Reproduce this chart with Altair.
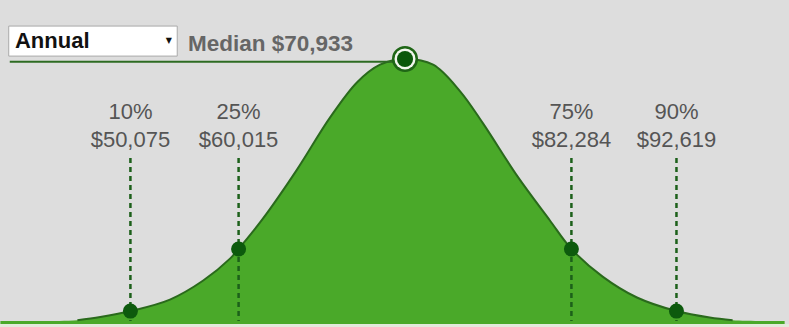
import altair as alt
import pandas as pd

# ---- data (x: position relative to the median, y: relative density) ----
curve_x = [-3.89, -3.51, -3.15, -2.93, -2.64, -2.26, -1.94, -1.68, -1.60, -1.37, -1.04,
           -0.72, -0.46, -0.24, 0.00, 0.27, 0.53, 0.75, 1.08, 1.39, 1.60, 1.90, 2.23,
           2.61, 2.93, 3.15, 3.65]
curve_y = [0.000, 0.000, 0.003, 0.015, 0.038, 0.082, 0.155, 0.240, 0.276, 0.390, 0.579,
           0.780, 0.915, 0.982, 1.004, 0.982, 0.880, 0.757, 0.555, 0.387, 0.276, 0.170,
           0.090, 0.038, 0.013, 0.003, 0.000]

pct_labels = ["10%", "25%", "75%", "90%"]
pct_values = ["$50,075", "$60,015", "$82,284", "$92,619"]
pct_x = [-2.64, -1.60, 1.60, 2.61]
pct_y = [0.038, 0.276, 0.276, 0.038]

median_label = "Median $70,933"
median_x = 0.0
median_y = 1.004
dropdown_text = "Annual"

# layout in data units
X_DOM = [-3.894, 3.692]
Y_DOM = [-0.023, 1.2299]
BAND = -0.0115

FONT = "Liberation Sans"

curve = pd.DataFrame({"x": curve_x, "y": curve_y})
pcts = pd.DataFrame({"x": pct_x, "y": pct_y, "lab": pct_labels, "val": pct_values,
                     "top": [0.625] * 4, "bot": [0.0] * 4,
                     "ylab": [0.800] * 4, "yval": [0.695] * 4})
med = pd.DataFrame({"x": [median_x], "y": [median_y]})
medline = pd.DataFrame({"x": [-3.80], "x2": [median_x], "y": [0.993]})
medtext = pd.DataFrame({"x": [-2.087], "y": [1.061], "t": [median_label]})
dd = pd.DataFrame({"x": [-3.81], "x2": [-2.19], "y": [1.015], "y2": [1.130],
                   "tx": [-3.75], "ty": [1.071], "t": [dropdown_text], "ax": [-2.27]})
strip = pd.DataFrame({"x": [X_DOM[0]], "x2": [X_DOM[1]], "y": [Y_DOM[0]], "y2": [BAND]})

xs = alt.Scale(domain=X_DOM, nice=False, zero=False)
ys = alt.Scale(domain=Y_DOM, nice=False, zero=False)
X = lambda f="x": alt.X(f, type="quantitative", scale=xs, axis=None)
Y = lambda f="y": alt.Y(f, type="quantitative", scale=ys, axis=None)

strip_l = alt.Chart(strip).mark_rect(color="#e3eadb").encode(
    x=X(), x2="x2", y=Y(), y2="y2")

area = alt.Chart(curve).mark_area(color="#4aa929", interpolate="catmull-rom", opacity=1).encode(
    x=X(), y=Y(), y2=alt.datum(BAND))

line = alt.Chart(curve).transform_filter("datum.y > 0.001").mark_line(
    color="#2a6a1c", strokeWidth=2, interpolate="catmull-rom").encode(x=X(), y=Y())

dashes = alt.Chart(pcts).mark_rule(color="#1c601a", strokeWidth=2.5, strokeDash=[5, 4]).encode(
    x=X(), y=Y("top"), y2="bot")

pts = alt.Chart(pcts).mark_point(filled=True, color="#0d5a0d", size=225, opacity=1).encode(
    x=X(), y=Y())

lab1 = alt.Chart(pcts).mark_text(font=FONT, fontSize=22, color="#555555").encode(
    x=X(), y=Y("ylab"), text="lab")
lab2 = alt.Chart(pcts).mark_text(font=FONT, fontSize=22, color="#555555").encode(
    x=X(), y=Y("yval"), text="val")

mline = alt.Chart(medline).mark_rule(color="#2d6b22", strokeWidth=2).encode(
    x=X(), x2="x2", y=Y())

c_outer = alt.Chart(med).mark_point(filled=True, color="#1f6616", size=680, opacity=1).encode(x=X(), y=Y())
c_white = alt.Chart(med).mark_point(filled=True, color="#f2f7ee", size=440, opacity=1).encode(x=X(), y=Y())
c_inner = alt.Chart(med).mark_point(filled=True, color="#0b580b", size=260, opacity=1).encode(x=X(), y=Y())

mtext = alt.Chart(medtext).mark_text(font=FONT, fontSize=22.5, fontWeight="bold", color="#666666",
                                     align="left").encode(x=X(), y=Y(), text="t")

ddbox = alt.Chart(dd).mark_rect(fill="white", stroke="#a9a9a9", strokeWidth=1).encode(
    x=X(), x2="x2", y=Y(), y2="y2")
ddtext = alt.Chart(dd).mark_text(font=FONT, fontSize=22, fontWeight="bold", color="#111111",
                                 align="left").encode(x=X("tx"), y=Y("ty"), text="t")
ddarrow = alt.Chart(dd).mark_text(font="DejaVu Sans", fontSize=8, color="#111111").encode(
    x=X("ax"), y=Y("ty"), text=alt.value("▼"))

chart = alt.layer(strip_l, area, line, dashes, pts, lab1, lab2, mline,
                  c_outer, c_white, c_inner, mtext, ddbox, ddtext, ddarrow).properties(
    width=789, height=327, background="#dddddd", padding=0,
    autosize=alt.AutoSizeParams(type="none")
).configure_view(stroke=None)

chart.save("out.html", embed_options={"renderer": "svg", "actions": False})
